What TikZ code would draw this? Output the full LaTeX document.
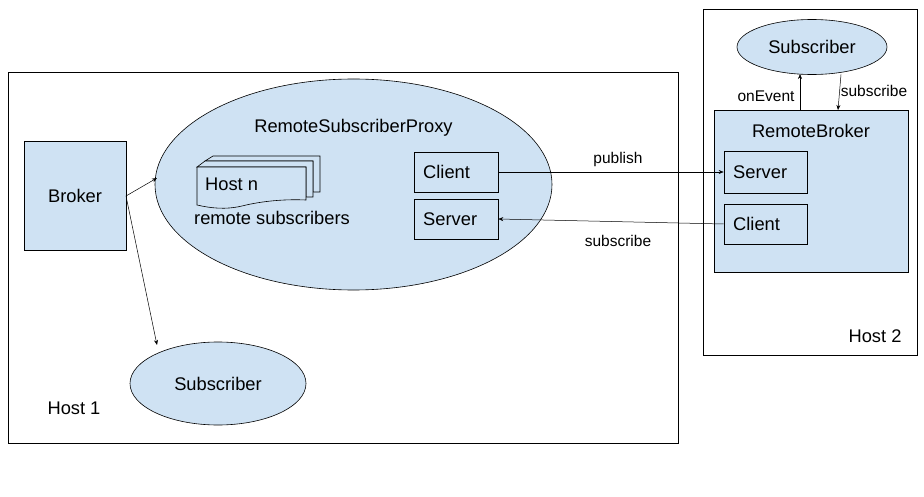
\documentclass[tikz,border=0pt]{standalone}
\usepackage{fontspec}
\setmainfont{Liberation Sans}
\usetikzlibrary{arrows.meta,shapes.geometric}
\definecolor{fillblue}{HTML}{CFE2F3}
\begin{document}
\begin{tikzpicture}[x=1pt,y=-1pt,
  box/.style={draw=black, line width=0.6pt, fill=fillblue, inner sep=0pt},
  hostbox/.style={draw=black, line width=0.6pt, fill=white, inner sep=0pt},
  ell/.style={draw=black, line width=0.6pt, fill=fillblue, ellipse, inner sep=0pt},
  docline/.style={line width=0.6pt, fill=fillblue},
  lbl/.style={font=\fontsize{18.3}{20}\selectfont, inner sep=0pt},
  slbl/.style={font=\fontsize{15.5}{17}\selectfont, inner sep=0pt},
  arr/.style={-{Stealth[length=5pt,width=4pt]}, line width=0.5pt}]
\useasboundingbox (0,0) rectangle (924,497);
% Host frames
\node[hostbox, minimum width=670, minimum height=371] (host1) at (343,257.5) {};
\node[hostbox, minimum width=214, minimum height=346] (host2) at (810,182) {};
% Host 1 content
\node[box, minimum width=102, minimum height=109] (broker) at (75,195.5) {};
\node[lbl] at (broker.center) {Broker};
\node[ell, minimum width=397, minimum height=211] (proxy) at (353.5,184.5) {};
\node[lbl] (proxylbl) at (353.5,128) {RemoteSubscriberProxy};
\node[box, minimum width=84, minimum height=40] (pclient) at (456,172) {};
\node[lbl, anchor=west] at (423,172) {Client};
\node[box, minimum width=84, minimum height=40] (pserver) at (456,219) {};
\node[lbl, anchor=west] at (423,219) {Server};
% document stack
\draw[docline] (213,156) -- (320,156) -- (320,192) -- (313,192) -- (313,161) -- (205,161) -- cycle;
\draw[docline] (205,161) -- (313,161) -- (313,197) -- (306,197) -- (306,167) -- (197,167) -- cycle;
\draw[docline] (197,167) -- (306,167) -- (306,200)
  .. controls (285,199) and (262,201) .. (242,206)
  .. controls (225,210) and (210,208) .. (197,205) -- cycle;
\node[lbl, anchor=west] (hostn) at (205,184) {Host n};
\node[lbl] (remsub) at (272,218) {remote subscribers};
\node[ell, minimum width=176, minimum height=83] (sub1) at (218,383.5) {};
\node[lbl] at (sub1.center) {Subscriber};
\node[lbl] (h1) at (74,408) {Host 1};
% Host 2 content
\node[ell, minimum width=150, minimum height=55] (sub2) at (812,47) {};
\node[lbl] at (sub2.center) {Subscriber};
\node[box, minimum width=194, minimum height=162] (rbroker) at (811,191) {};
\node[lbl] at (811,131) {RemoteBroker};
\node[box, minimum width=83, minimum height=42] (rserver) at (765.5,172) {};
\node[lbl, anchor=west] at (733,172) {Server};
\node[box, minimum width=83, minimum height=40] (rclient) at (765.5,224) {};
\node[lbl, anchor=west] at (733,224) {Client};
\node[lbl] (h2) at (875,336) {Host 2};
% connectors
\coordinate (bk) at (126,196);
\draw[arr] (bk) -- (157,178);
\draw[arr] (bk) -- (157,345);
\draw[arr] (pclient.east) -- (rserver.west);
\node[slbl] at (618,159) {publish};
\draw[arr] (rclient.west) -- (pserver.east);
\node[slbl] at (618,241) {subscribe};
\draw[arr] (800,110) -- (800,74);
\node[slbl] at (766,96) {onEvent};
\draw[arr] (841,74.5) -- (838,110);
\node[slbl] at (874,91) {subscribe};
\end{tikzpicture}
\end{document}
